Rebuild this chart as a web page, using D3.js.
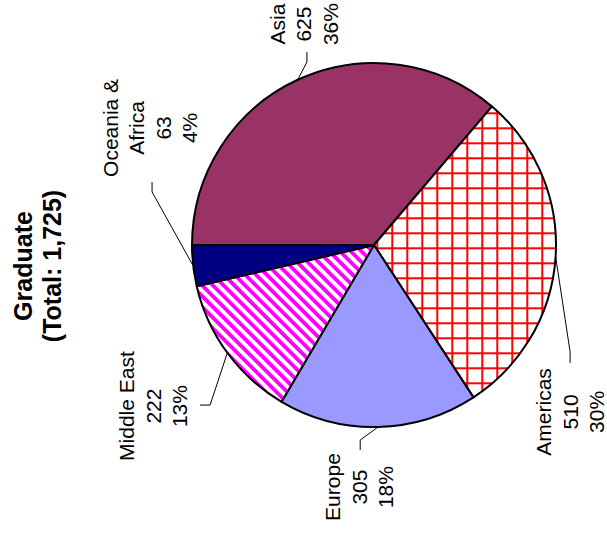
<!DOCTYPE html>
<html>
<head>
<meta charset="utf-8">
<script src="https://cdn.jsdelivr.net/npm/d3@7"></script>
<style>
  html, body { margin: 0; padding: 0; background: #fff; }
  text { font-family: "Liberation Sans", Arial, sans-serif; fill: #000; }
</style>
</head>
<body>
<div id="chart"></div>
<script>
// Graduate students by region
const categories = ["Asia", "Americas", "Europe", "Middle East", "Oceania & Africa"];
const values = [625, 510, 305, 222, 63];
const nameLines = [["Asia"], ["Americas"], ["Europe"], ["Middle East"], ["Oceania &", "Africa"]];
const titleText = "Graduate";

const W = 607, H = 533;
const cx = 374, cy = 245, R = 182;
const fontSize = 21, lineH = 26.5;
const titleSize = 25;
const deg = Math.PI / 180;

// label placement (polar around pie centre) + leader end/elbow relative to label
const labelLayout = [
  { angle: -17.6, dist: 231.8, end: [3, 28], elbow: [3, 38] },
  { angle: 130.4, dist: 257.5, end: [0, -49], elbow: [0, -60] },
  { angle: 183.5, dist: 242.5, end: [1, -37], elbow: [1, -47] },
  { angle: 233.9, dist: 273.4, end: [47, -1], elbow: [57, -1] },
  { angle: 297.6, dist: 252.7, end: [2, 54], elbow: [2, 64] }
];

const svg = d3.select("#chart").append("svg")
  .attr("width", W).attr("height", H);

const defs = svg.append("defs");

// red grid for Americas
const grid = defs.append("pattern")
  .attr("id", "grid")
  .attr("patternUnits", "userSpaceOnUse")
  .attr("width", 15).attr("height", 15);
grid.append("rect").attr("width", 15).attr("height", 15).attr("fill", "#fff");
grid.append("line").attr("x1", 3.3).attr("x2", 3.3).attr("y1", 0).attr("y2", 15)
  .attr("stroke", "#ff0000").attr("stroke-width", 2);
grid.append("line").attr("y1", 3.3).attr("y2", 3.3).attr("x1", 0).attr("x2", 15)
  .attr("stroke", "#ff0000").attr("stroke-width", 2);

// magenta diagonal stripes for Middle East
const sp = 7.6;
const stripes = defs.append("pattern")
  .attr("id", "stripes")
  .attr("patternUnits", "userSpaceOnUse")
  .attr("width", sp).attr("height", sp)
  .attr("patternTransform", "rotate(-45)");
stripes.append("rect").attr("width", sp).attr("height", sp).attr("fill", "#fff");
stripes.append("rect").attr("width", sp / 2).attr("height", sp).attr("fill", "#ff00ff");

const fills = ["#993366", "url(#grid)", "#9999ff", "url(#stripes)", "#000080"];

const pie = d3.pie()
  .sort(null)
  .startAngle(-Math.PI / 2)
  .endAngle(Math.PI * 1.5);
const arcs = pie(values);
const arc = d3.arc().innerRadius(0).outerRadius(R);

const g = svg.append("g").attr("transform", `translate(${cx},${cy})`);

g.selectAll("path.slice")
  .data(arcs)
  .join("path")
  .attr("class", "slice")
  .attr("d", arc)
  .attr("fill", (d, i) => fills[i])
  .attr("stroke", "#000")
  .attr("stroke-width", 2)
  .attr("stroke-linejoin", "round");

const total = d3.sum(values);
const fmtPct = d3.format(".0%");

// leader lines
g.selectAll("polyline.leader")
  .data(arcs)
  .join("polyline")
  .attr("class", "leader")
  .attr("fill", "none")
  .attr("stroke", "#000")
  .attr("stroke-width", 1)
  .attr("points", (d, i) => {
    const mid = (d.startAngle + d.endAngle) / 2;
    const p0 = d3.pointRadial(mid, R);
    const L = labelLayout[i];
    const a = d3.pointRadial(L.angle * deg, L.dist);
    const e1 = [a[0] + L.elbow[0], a[1] + L.elbow[1]];
    const e2 = [a[0] + L.end[0], a[1] + L.end[1]];
    return [p0, e1, e2].map(p => p.join(",")).join(" ");
  });

// labels, rotated to read bottom-to-top
arcs.forEach((d, i) => {
  const L = labelLayout[i];
  const a = d3.pointRadial(L.angle * deg, L.dist);
  const lines = nameLines[i].concat([d3.format(",")(values[i]), fmtPct(values[i] / total)]);
  const t = g.append("text")
    .attr("transform", `translate(${a[0]},${a[1]}) rotate(-90)`)
    .attr("text-anchor", "middle")
    .attr("font-size", fontSize);
  lines.forEach((s, k) => {
    t.append("tspan")
      .attr("x", 0)
      .attr("y", (k - (lines.length - 1) / 2) * lineH + 0.36 * fontSize)
      .text(s);
  });
});

// title
const titleLines = [titleText, `(Total: ${d3.format(",")(total)})`];
const tt = svg.append("text")
  .attr("transform", `translate(37,266) rotate(-90)`)
  .attr("text-anchor", "middle")
  .attr("font-size", titleSize)
  .attr("font-weight", "bold");
titleLines.forEach((s, k) => {
  tt.append("tspan")
    .attr("x", 0)
    .attr("y", (k - (titleLines.length - 1) / 2) * 29 + 0.36 * titleSize)
    .text(s);
});
</script>
</body>
</html>
